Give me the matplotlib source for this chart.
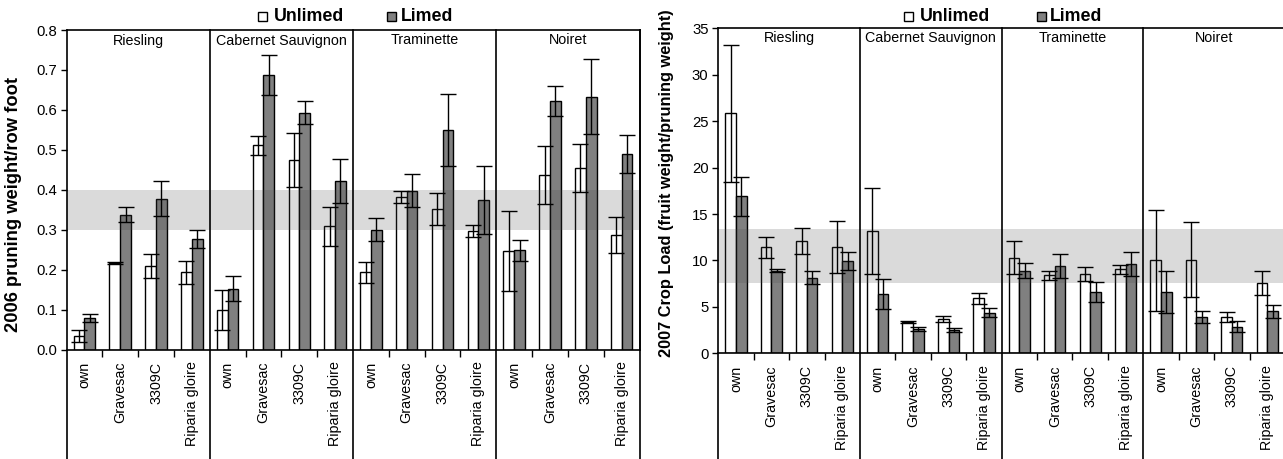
import matplotlib
matplotlib.use("Agg")
import matplotlib.pyplot as plt
from matplotlib.patches import Rectangle
import numpy as np

plt.rcParams['font.family'] = ['Liberation Sans', 'DejaVu Sans']

cultivars = ["Riesling", "Cabernet Sauvignon", "Traminette", "Noiret"]
rootstocks = ["own", "Gravesac", "3309C", "Riparia gloire"]

# 2006 pruning weight / row foot
pw_unlimed = [0.035, 0.217, 0.210, 0.193,
              0.100, 0.511, 0.474, 0.309,
              0.193, 0.383, 0.352, 0.297,
              0.246, 0.437, 0.454, 0.287]
pw_unlimed_err = [0.015, 0.002, 0.030, 0.029,
                  0.050, 0.024, 0.068, 0.049,
                  0.026, 0.015, 0.041, 0.015,
                  0.100, 0.073, 0.060, 0.045]
pw_limed = [0.078, 0.338, 0.378, 0.277,
            0.152, 0.688, 0.593, 0.422,
            0.300, 0.398, 0.549, 0.375,
            0.248, 0.622, 0.633, 0.489]
pw_limed_err = [0.010, 0.020, 0.043, 0.023,
                0.031, 0.050, 0.029, 0.055,
                0.029, 0.041, 0.090, 0.085,
                0.027, 0.037, 0.094, 0.048]

# 2007 crop load
cl_unlimed = [25.85, 11.41, 12.13, 11.48,
              13.17, 3.33, 3.66, 5.92,
              10.30, 8.40, 8.50, 9.04,
              10.00, 10.10, 3.94, 7.60]
cl_unlimed_err = [7.40, 1.15, 1.40, 2.80,
                  4.60, 0.10, 0.33, 0.60,
                  1.80, 0.50, 0.75, 0.47,
                  5.40, 4.00, 0.53, 1.30]
cl_limed = [16.94, 8.90, 8.14, 9.94,
            6.39, 2.62, 2.51, 4.37,
            8.90, 9.40, 6.60, 9.62,
            6.60, 3.87, 2.87, 4.52]
cl_limed_err = [2.10, 0.15, 0.70, 0.97,
                1.60, 0.25, 0.20, 0.47,
                0.80, 1.25, 1.05, 1.30,
                2.30, 0.65, 0.60, 0.70]

pw_band = (0.3, 0.4)
cl_band = (7.6, 13.35)

W, H = 1283, 459
fig = plt.figure(figsize=(W / 100, H / 100), dpi=100)


def fx(px):
    return px / W


def fy(py):
    return 1 - py / H


def make_panel(rect, unl, unl_e, lim, lim_e, band, ylim, yticks, yfmt, ylabel,
               label_x, label_y, label_size, title_y_px, draw_right):
    ax = fig.add_axes(rect)
    n = len(unl)
    x = np.arange(n)
    w = 0.3
    ax.bar(x - w / 2, unl, w, color='white', edgecolor='black', linewidth=1.0, zorder=2)
    ax.bar(x + w / 2, lim, w, color='#808080', edgecolor='black', linewidth=1.0, zorder=2)
    ax.errorbar(x - w / 2, unl, yerr=unl_e, fmt='none', ecolor='black',
                elinewidth=1.0, capsize=5.5, capthick=1.0, zorder=4)
    ax.errorbar(x + w / 2, lim, yerr=lim_e, fmt='none', ecolor='black',
                elinewidth=1.0, capsize=5.5, capthick=1.0, zorder=4)
    ax.axhspan(band[0], band[1], color='#4a4a4a', alpha=0.2, lw=0, zorder=3)
    ax.set_xlim(-0.5, n - 0.5)
    ax.set_ylim(*ylim)
    ax.set_yticks(yticks)
    ax.set_yticklabels([yfmt.format(t) for t in yticks])
    ax.tick_params(axis='y', direction='out', length=4, width=1, pad=3, labelsize=10.7)
    # category boundary ticks
    bticks = [i + 0.5 for i in range(n - 1) if (i + 1) % 4 != 0]
    ax.set_xticks(bticks)
    ax.set_xticklabels([])
    ax.tick_params(axis='x', direction='out', length=5, width=1)
    for s in ax.spines.values():
        s.set_linewidth(1.2)
    ax.spines['right'].set_visible(draw_right)
    ax.spines['left'].set_visible(False)
    tr = ax.get_xaxis_transform()
    ext = -0.45
    # left axis line extended into the category label area
    ax.plot([-0.5, -0.5], [1, ext], transform=tr, color='black', lw=1.2, clip_on=False, zorder=5)
    if draw_right:
        ax.plot([n - 0.5, n - 0.5], [1, ext], transform=tr, color='black', lw=1.2, clip_on=False, zorder=5)
    for k in range(1, len(cultivars)):
        xx = 4 * k - 0.5
        ax.plot([xx, xx], [1, ext], transform=tr, color='black', lw=1.2, clip_on=False, zorder=5)
    # labels
    ax_h_px = rect[3] * H
    for i in range(n):
        ax.text(i, -12 / ax_h_px, rootstocks[i % 4], rotation=90, ha='center', va='top',
                fontsize=10.3, transform=tr)
    for k, c in enumerate(cultivars):
        ax.text(4 * k + 1.5, 1 - title_y_px / ax_h_px, c, ha='center', va='center',
                fontsize=10.3, transform=tr)
    fig.text(label_x, label_y, ylabel, rotation=90, ha='center', va='center',
             fontsize=label_size, fontweight='bold')
    return ax


# left panel
ax1 = make_panel([fx(66.5), fy(349.5), fx(639.5 - 66.5), (349.5 - 30) / H],
                 pw_unlimed, pw_unlimed_err, pw_limed, pw_limed_err, pw_band,
                 (0, 0.8), np.round(np.arange(0, 0.81, 0.1), 1), "{:.1f}",
                 "2006 pruning weight/row foot", fx(14), fy(205), 13.2, 10.5, True)

# right panel
ax2 = make_panel([fx(718.3), fy(353.3), fx(1285 - 718.3), (353.3 - 28.3) / H],
                 cl_unlimed, cl_unlimed_err, cl_limed, cl_limed_err, cl_band,
                 (0, 35), np.arange(0, 36, 5), "{:d}",
                 "2007 Crop Load (fruit weight/pruning weight)", fx(666), fy(183), 11.8, 10, False)


def legend(x_sq1, x_t1, x_sq2, x_t2):
    for xs, xt, col, lab in [(x_sq1, x_t1, 'white', 'Unlimed'), (x_sq2, x_t2, '#808080', 'Limed')]:
        fig.patches.append(Rectangle((fx(xs), fy(21)), 9 / W, 9 / H, facecolor=col,
                                     edgecolor='black', lw=1, transform=fig.transFigure))
        fig.text(fx(xt), fy(16.5), lab, ha='left', va='center', fontsize=12.8, fontweight='bold')


legend(257.5, 274, 386.5, 401)
legend(904, 919.5, 1036.5, 1050)

fig.savefig("out.png", dpi=100)
